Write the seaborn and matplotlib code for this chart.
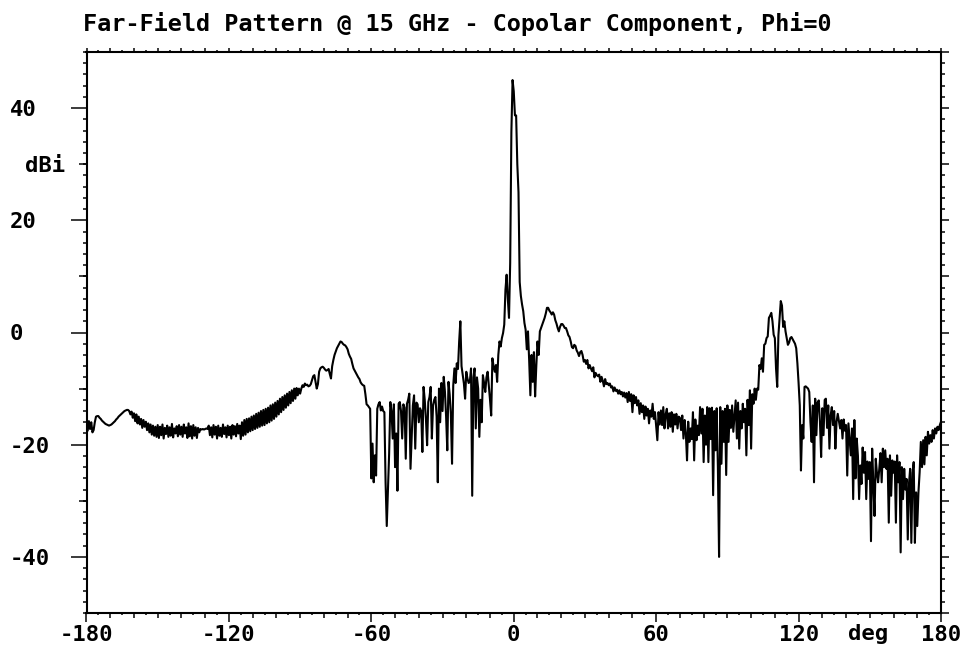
import numpy as np
import pandas as pd
import matplotlib
matplotlib.use("Agg")
import matplotlib.pyplot as plt
import seaborn as sns
from matplotlib.ticker import FixedLocator, MultipleLocator

# ---------------- data ----------------
title = "Far-Field Pattern @ 15 GHz - Copolar Component, Phi=0"
x_unit = "deg"
y_unit = "dBi"
x_tick_values = [-180, -120, -60, 0, 60, 120, 180]
x_tick_labels = ["-180", "-120", "-60", "0", "60", "120", "180"]
y_tick_values = [-40, -20, 0, 20, 40]
y_tick_labels = ["-40", "-20", "0", "20", "40"]
angle_start, angle_stop, angle_step = -180.0, 180.0, 0.5

# gain (dBi) every 0.5 deg, one row = 10 deg
gain_dbi = [
    -16.0, -17.5, -15.8, -17.2, -16.0, -17.8, -17.4, -16.0, -15.0, -14.9, -14.9, -15.2, -15.4, -15.7, -15.9, -16.1, -16.3, -16.4, -16.5, -16.6,
    -16.5, -16.4, -16.2, -16.0, -15.8, -15.5, -15.3, -15.0, -14.8, -14.6, -14.4, -14.2, -14.0, -13.9, -13.8, -13.8, -14.0, -14.6, -14.1, -15.2,
    -14.4, -15.8, -14.6, -16.2, -15.0, -16.4, -15.4, -17.0, -15.6, -16.8, -15.9, -17.4, -16.2, -17.8, -16.4, -18.2, -16.6, -18.4, -16.8, -18.6,
    -16.5, -18.8, -16.8, -18.3, -16.4, -18.9, -17.0, -18.1, -16.6, -18.6, -16.9, -18.4, -16.3, -18.7, -17.1, -18.0, -16.7, -18.5, -16.5, -18.2,
    -16.8, -18.6, -16.4, -18.0, -16.9, -18.8, -16.2, -18.5, -16.7, -18.9, -16.5, -18.4, -16.9, -18.8, -17.0, -17.8, -17.2, -17.3, -17.2, -17.3,
    -17.2, -17.1, -17.2, -16.6, -18.3, -16.9, -18.7, -16.5, -18.2, -16.8, -18.9, -16.6, -18.4, -17.0, -18.6, -16.4, -18.1, -16.9, -18.7, -16.6,
    -18.3, -16.8, -18.9, -16.5, -18.2, -16.7, -18.5, -16.3, -18.0, -16.6, -19.0, -16.0, -18.4, -15.6, -18.2, -15.4, -17.8, -15.3, -17.6, -15.0,
    -17.4, -14.8, -17.2, -14.5, -17.0, -14.3, -16.8, -14.0, -16.6, -13.8, -16.5, -13.6, -16.2, -13.4, -16.0, -13.0, -15.7, -12.8, -15.4, -12.5,
    -15.0, -12.2, -14.6, -11.8, -14.2, -11.5, -13.8, -11.2, -13.4, -10.9, -13.0, -10.6, -12.6, -10.3, -12.2, -10.0, -11.8, -9.9, -11.2, -10.0,
    -10.9, -10.0, -9.4, -9.7, -9.1, -9.4, -9.3, -9.6, -9.5, -9.2, -8.5, -7.8, -7.6, -8.8, -10.0, -9.2, -7.0, -6.4, -6.2, -6.1,
    -6.3, -6.6, -6.8, -6.7, -6.5, -7.4, -8.2, -6.0, -4.9, -4.0, -3.4, -2.8, -2.4, -2.0, -1.6, -1.7, -2.0, -2.2, -2.3, -2.6,
    -3.0, -3.8, -4.3, -4.7, -5.6, -6.4, -6.8, -7.2, -7.6, -8.0, -8.3, -8.9, -9.2, -9.4, -9.5, -11.0, -12.8, -13.0, -13.3, -13.6,
    -26.0, -19.8, -26.7, -21.9, -25.5, -13.6, -12.8, -12.4, -13.9, -13.2, -14.0, -14.2, -26.7, -34.5, -28.0, -21.6, -12.4, -14.0, -18.9, -12.8,
    -24.0, -18.0, -28.2, -12.7, -12.4, -14.0, -18.9, -12.8, -13.4, -22.5, -12.7, -12.0, -10.9, -24.3, -18.5, -13.0, -11.2, -20.7, -12.5, -12.8,
    -16.0, -13.5, -14.0, -21.3, -9.7, -12.0, -15.4, -20.1, -12.4, -11.5, -9.7, -18.9, -13.0, -12.0, -11.5, -15.0, -26.7, -10.0, -16.0, -9.0,
    -14.0, -7.9, -10.5, -15.0, -21.0, -8.8, -11.0, -14.5, -23.4, -9.5, -6.4, -9.0, -5.5, -6.5, -1.6, 2.0, -6.0, -7.5, -9.1, -11.8,
    -7.0, -8.2, -9.0, -8.8, -6.4, -29.1, -8.0, -6.4, -17.1, -8.0, -10.0, -18.6, -12.0, -16.0, -7.6, -9.0, -10.6, -8.0, -7.0, -9.5,
    -12.0, -14.8, -4.6, -6.0, -7.0, -5.8, -8.8, -4.0, -1.6, -2.5, -1.0, -0.1, 1.4, 7.6, 10.3, 6.0, 2.6, 12.4, 35.7, 45.0,
    43.0, 38.7, 38.7, 30.0, 25.0, 9.0, 6.5, 5.0, 3.8, 1.7, 0.5, -3.0, 0.2, -5.0, -11.2, -4.0, -8.8, -3.5, -11.4, -6.0,
    -1.6, -4.0, 0.2, 0.8, 1.4, 2.0, 2.6, 3.4, 4.4, 4.4, 3.9, 3.6, 3.2, 3.6, 3.2, 2.2, 1.6, 0.8, 0.2, 1.0,
    1.5, 1.5, 1.2, 0.8, 0.8, 0.2, -0.5, -0.8, -1.6, -2.6, -2.8, -2.2, -2.4, -3.2, -3.6, -4.2, -3.5, -3.3, -4.0, -5.2,
    -4.9, -5.6, -4.9, -6.4, -5.8, -6.4, -6.9, -6.2, -8.0, -7.2, -7.6, -7.8, -7.5, -8.8, -7.9, -8.6, -9.6, -8.3, -9.2, -9.0,
    -9.4, -9.1, -9.8, -9.6, -10.5, -9.8, -10.4, -10.2, -10.9, -10.3, -11.0, -10.6, -11.4, -10.7, -11.6, -10.8, -12.4, -10.6, -12.2, -11.0,
    -14.2, -11.2, -12.6, -11.5, -13.0, -12.1, -14.5, -12.6, -14.2, -13.0, -15.4, -13.2, -14.8, -13.6, -16.2, -13.9, -15.0, -12.7, -15.4, -14.2,
    -16.8, -19.2, -14.2, -16.4, -13.9, -16.5, -13.3, -17.1, -14.6, -13.6, -17.1, -14.4, -16.8, -14.2, -17.7, -14.6, -16.4, -14.5, -17.1, -15.0,
    -15.2, -17.4, -14.8, -18.9, -15.6, -18.0, -22.8, -15.9, -19.5, -17.1, -19.0, -14.2, -22.8, -15.5, -19.2, -16.6, -18.3, -13.3, -18.0, -13.6,
    -23.1, -14.8, -20.0, -13.3, -23.1, -13.5, -19.0, -13.4, -29.0, -14.0, -21.0, -13.5, -24.0, -40.0, -13.3, -23.4, -14.0, -19.5, -13.6, -25.4,
    -13.0, -19.5, -13.8, -17.0, -13.0, -17.7, -15.0, -12.1, -18.9, -12.5, -20.7, -14.0, -17.1, -12.7, -16.0, -13.6, -21.9, -12.0, -16.5, -10.3,
    -20.7, -11.0, -12.7, -10.0, -12.0, -10.0, -10.2, -5.8, -6.5, -4.6, -7.0, -2.2, -2.0, -1.0, -0.7, 2.6, 3.0, 3.5, 2.0, -0.4,
    -1.0, -6.4, -9.7, -0.5, 2.6, 5.6, 4.8, 1.0, 2.0, 0.2, -1.0, -2.2, -1.8, -1.0, -0.8, -1.2, -1.6, -2.0, -2.8, -5.5,
    -9.0, -13.0, -24.6, -16.5, -18.9, -9.7, -9.6, -9.8, -10.0, -10.6, -16.0, -19.5, -13.0, -26.7, -11.8, -18.3, -12.5, -12.1, -15.9, -22.2,
    -13.5, -18.3, -12.0, -11.8, -17.0, -13.0, -20.7, -14.8, -13.3, -16.5, -14.0, -20.7, -15.9, -14.5, -15.8, -17.1, -15.6, -18.9, -15.5, -17.5,
    -16.5, -25.5, -16.2, -19.0, -21.9, -17.1, -29.7, -15.6, -26.0, -18.9, -22.0, -29.7, -23.7, -27.0, -20.5, -25.0, -21.3, -29.7, -23.0, -26.1,
    -23.1, -37.2, -20.7, -27.0, -32.7, -22.5, -25.0, -26.7, -24.3, -21.5, -26.7, -20.7, -24.0, -21.0, -24.3, -22.5, -33.9, -21.9, -29.1, -22.8,
    -25.0, -23.0, -33.9, -21.9, -26.7, -23.1, -39.2, -24.0, -29.7, -24.3, -28.0, -26.1, -36.9, -27.0, -24.3, -37.5, -25.0, -23.1, -37.5, -28.5,
    -34.5, -28.5, -24.9, -19.5, -24.0, -19.2, -23.5, -18.6, -21.9, -17.7, -19.8, -18.3, -19.5, -17.4, -18.9, -17.1, -18.0, -16.8, -17.4, -16.5, -15.9,
]

angles = np.arange(angle_start, angle_stop + angle_step / 2, angle_step)
assert len(angles) == len(gain_dbi), (len(angles), len(gain_dbi))
df = pd.DataFrame({"theta": angles, "gain": gain_dbi})

# ---------------- style ----------------
sns.set_style("ticks")
plt.rcParams["font.family"] = ["DejaVu Sans Mono", "DejaVu Sans"]
plt.rcParams["font.weight"] = "bold"
plt.rcParams["axes.unicode_minus"] = False
for k in ["text.color", "xtick.color", "ytick.color", "axes.edgecolor", "axes.labelcolor"]:
    plt.rcParams[k] = "black"

W, H = 969, 648
PX = 72.0 / 100.0  # points per pixel
FS = 16
FS_TITLE = 16.9

fig = plt.figure(figsize=(W / 100, H / 100), dpi=100)
L, R, T, B = 86.5, 941.0, 52.0, 613.0
ax = fig.add_axes([L / W, 1 - B / H, (R - L) / W, (B - T) / H])

sns.lineplot(data=df, x="theta", y="gain", color="black", linewidth=1.5,
             ax=ax, legend=False, sort=False, estimator=None)

ax.set_xlim(-180, 180)
ax.set_ylim(-50, 50)
ax.set_xlabel("")
ax.set_ylabel("")
for s in ax.spines.values():
    s.set_visible(True)
    s.set_color("black")
    s.set_linewidth(1.5)

# bottom axis: labelled 60-deg ticks, 10-deg minor ticks
ax.xaxis.set_major_locator(FixedLocator(x_tick_values))
ax.set_xticklabels(x_tick_labels)
ax.xaxis.set_minor_locator(MultipleLocator(10))
ax.tick_params(axis="x", which="major", direction="out", length=9 * PX, width=1.5 * PX,
               pad=2.3, labelsize=FS, bottom=True, top=False)
ax.tick_params(axis="x", which="minor", direction="out", length=5 * PX, width=1.5 * PX,
               bottom=True, top=False)

# left axis: labelled 20-dB ticks, 2-dB minor ticks, labels left-aligned
ax.yaxis.set_major_locator(FixedLocator(y_tick_values))
ax.set_yticklabels(y_tick_labels)
ax.yaxis.set_minor_locator(MultipleLocator(2))
ax.tick_params(axis="y", which="major", direction="out", length=16 * PX, width=1.5 * PX,
               pad=60.5 * PX, labelsize=FS, left=True, right=False)
ax.tick_params(axis="y", which="minor", direction="out", length=4 * PX, width=1.5 * PX,
               left=True, right=False)
plt.setp(ax.get_yticklabels(), ha="left")

# extra 5-deg ticks on the bottom axis
sb = ax.secondary_xaxis("bottom")
sb.set_ticks(list(range(-175, 180, 10)))
sb.tick_params(axis="x", direction="out", length=2.5 * PX, width=1.5 * PX, labelbottom=False)
for s in sb.spines.values():
    s.set_visible(False)

# 10-dB ticks on the left axis carrying the unit label
sl = ax.secondary_yaxis("left")
sl.set_ticks([-30, -10, 10, 30], labels=["", "", "", y_unit])
sl.tick_params(axis="y", direction="out", length=8 * PX, width=1.5 * PX,
               pad=13.5 * PX, labelsize=FS)
for s in sl.spines.values():
    s.set_visible(False)

# top axis ticks
st = ax.secondary_xaxis("top")
st.xaxis.set_major_locator(MultipleLocator(10))
st.xaxis.set_minor_locator(MultipleLocator(5))
st.tick_params(axis="x", which="major", direction="out", length=4 * PX, width=1.5 * PX, labeltop=False)
st.tick_params(axis="x", which="minor", direction="out", length=2 * PX, width=1.5 * PX)
for s in st.spines.values():
    s.set_visible(False)

# right axis ticks
sr = ax.secondary_yaxis("right")
sr.yaxis.set_major_locator(MultipleLocator(10))
sr.yaxis.set_minor_locator(MultipleLocator(2))
sr.tick_params(axis="y", which="major", direction="out", length=8 * PX, width=1.5 * PX, labelright=False)
sr.tick_params(axis="y", which="minor", direction="out", length=4 * PX, width=1.5 * PX)
for s in sr.spines.values():
    s.set_visible(False)

# title and x unit
fig.text(83 / W, 1 - 31.5 / H, title, ha="left", va="baseline", fontsize=FS_TITLE, fontweight="bold")
fig.text(868 / W, 1 - 639.5 / H, x_unit, ha="center", va="baseline", fontsize=FS, fontweight="bold")

fig.savefig("out.png", dpi=100)
